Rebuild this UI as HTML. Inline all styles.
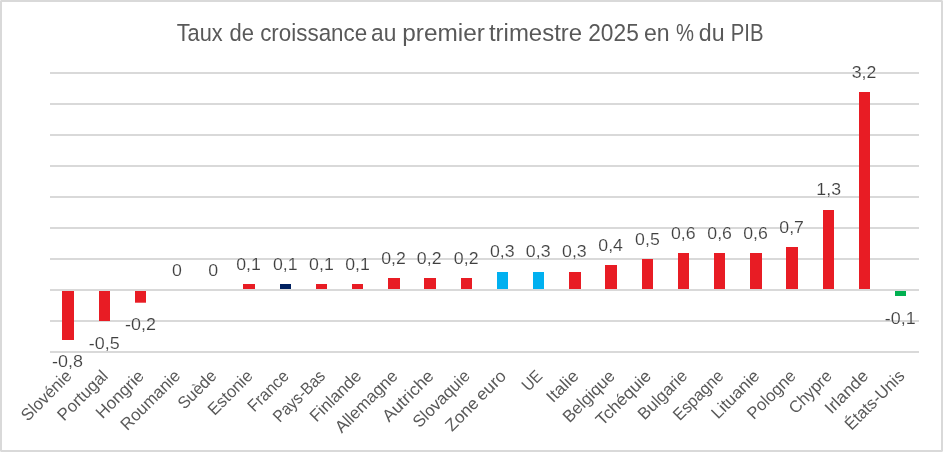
<!DOCTYPE html>
<html lang="fr">
<head>
<meta charset="utf-8">
<title>Taux de croissance au premier trimestre 2025 en % du PIB</title>
<style>
html,body{margin:0;padding:0;background:#fff;}
body{width:943px;height:452px;overflow:hidden;}
svg{display:block;}
text{font-family:"Liberation Sans",Arial,Helvetica,sans-serif;}
#labels text{stroke:#fff;stroke-width:0.14px;}
.t{fill:#595959;}
.a{fill:#595959;}
.d{fill:#404040;}
</style>
</head>
<body>
<svg width="943" height="452" viewBox="0 0 943 452">
<rect x="0" y="0" width="943" height="452" fill="#fff"/>
<rect x="1" y="1" width="941" height="450" fill="none" stroke="#D9D9D9" stroke-width="2"/>
<g fill="#E9E9E9"><rect x="0" y="0" width="1" height="1"/><rect x="942" y="0" width="1" height="1"/><rect x="0" y="451" width="1" height="1"/><rect x="942" y="451" width="1" height="1"/></g>
<g id="grid" stroke="#D9D9D9" stroke-width="1.9" fill="none">
<line x1="50.0" y1="73" x2="919.0" y2="73"/>
<line x1="50.0" y1="104" x2="919.0" y2="104"/>
<line x1="50.0" y1="135" x2="919.0" y2="135"/>
<line x1="50.0" y1="166" x2="919.0" y2="166"/>
<line x1="50.0" y1="197" x2="919.0" y2="197"/>
<line x1="50.0" y1="228" x2="919.0" y2="228"/>
<line x1="50.0" y1="259" x2="919.0" y2="259"/>
<line x1="50.0" y1="290" x2="919.0" y2="290"/>
<line x1="50.0" y1="321" x2="919.0" y2="321"/>
<line x1="50.0" y1="352" x2="919.0" y2="352"/>
</g>
<g id="bars">
<rect x="62" y="290.0" width="12" height="50" fill="#E81C24"/>
<rect x="99" y="290.0" width="11" height="31" fill="#E81C24"/>
<rect x="135" y="290.0" width="11" height="12.7" fill="#E81C24"/>
<rect x="243" y="284" width="12" height="6" fill="#E81C24"/>
<rect x="280" y="284" width="11" height="6" fill="#002060"/>
<rect x="316" y="284" width="11" height="6" fill="#E81C24"/>
<rect x="352" y="284" width="11" height="6" fill="#E81C24"/>
<rect x="388" y="278" width="12" height="12" fill="#E81C24"/>
<rect x="424" y="278" width="12" height="12" fill="#E81C24"/>
<rect x="461" y="278" width="11" height="12" fill="#E81C24"/>
<rect x="497" y="272" width="11" height="18" fill="#00B0F0"/>
<rect x="533" y="272" width="11" height="18" fill="#00B0F0"/>
<rect x="569" y="272" width="12" height="18" fill="#E81C24"/>
<rect x="605" y="265" width="12" height="25" fill="#E81C24"/>
<rect x="642" y="259" width="11" height="31" fill="#E81C24"/>
<rect x="678" y="253" width="11" height="37" fill="#E81C24"/>
<rect x="714" y="253" width="11" height="37" fill="#E81C24"/>
<rect x="750" y="253" width="12" height="37" fill="#E81C24"/>
<rect x="786" y="247" width="12" height="43" fill="#E81C24"/>
<rect x="823" y="210" width="11" height="80" fill="#E81C24"/>
<rect x="859" y="92" width="11" height="198" fill="#E81C24"/>
<rect x="895" y="290.0" width="11" height="6" fill="#00B050"/>
</g>
<line x1="50.0" y1="290.0" x2="919.0" y2="290.0" stroke="#D9D9D9" stroke-width="1.9"/>
<text class="t" y="41.2" font-size="23.15"><tspan x="176.69" textLength="46.00" lengthAdjust="spacingAndGlyphs">Taux</tspan> <tspan x="229.58" textLength="24.45" lengthAdjust="spacingAndGlyphs">de</tspan> <tspan x="260.15" textLength="107.07" lengthAdjust="spacingAndGlyphs">croissance</tspan> <tspan x="371.02" textLength="25.28" lengthAdjust="spacingAndGlyphs">au</tspan> <tspan x="402.23" textLength="82.64" lengthAdjust="spacingAndGlyphs">premier</tspan> <tspan x="488.97" textLength="93.14" lengthAdjust="spacingAndGlyphs">trimestre</tspan> <tspan x="588.19" textLength="50.60" lengthAdjust="spacingAndGlyphs">2025</tspan> <tspan x="643.92" textLength="25.65" lengthAdjust="spacingAndGlyphs">en</tspan> <tspan x="676.02" textLength="17.99" lengthAdjust="spacingAndGlyphs">%</tspan> <tspan x="698.77" textLength="25.77" lengthAdjust="spacingAndGlyphs">du</tspan> <tspan x="730.67" textLength="32.80" lengthAdjust="spacingAndGlyphs">PIB</tspan></text>
<g id="labels" font-size="17.27">
<text class="d" x="52.05" y="367.40" textLength="30.91" lengthAdjust="spacingAndGlyphs">-0,8</text>
<text class="d" x="88.86" y="348.80" textLength="30.91" lengthAdjust="spacingAndGlyphs">-0,5</text>
<text class="d" x="124.97" y="330.20" textLength="30.91" lengthAdjust="spacingAndGlyphs">-0,2</text>
<text class="d" x="172.09" y="275.50" textLength="9.89" lengthAdjust="spacingAndGlyphs">0</text>
<text class="d" x="208.29" y="275.50" textLength="9.89" lengthAdjust="spacingAndGlyphs">0</text>
<text class="d" x="236.23" y="269.70" textLength="24.64" lengthAdjust="spacingAndGlyphs">0,1</text>
<text class="d" x="273.03" y="269.70" textLength="24.64" lengthAdjust="spacingAndGlyphs">0,1</text>
<text class="d" x="309.14" y="269.70" textLength="24.64" lengthAdjust="spacingAndGlyphs">0,1</text>
<text class="d" x="345.15" y="269.70" textLength="24.64" lengthAdjust="spacingAndGlyphs">0,1</text>
<text class="d" x="381.26" y="263.90" textLength="24.64" lengthAdjust="spacingAndGlyphs">0,2</text>
<text class="d" x="416.87" y="263.90" textLength="24.64" lengthAdjust="spacingAndGlyphs">0,2</text>
<text class="d" x="453.88" y="263.90" textLength="24.64" lengthAdjust="spacingAndGlyphs">0,2</text>
<text class="d" x="490.03" y="257.40" textLength="24.64" lengthAdjust="spacingAndGlyphs">0,3</text>
<text class="d" x="525.89" y="257.40" textLength="24.64" lengthAdjust="spacingAndGlyphs">0,3</text>
<text class="d" x="562.10" y="257.40" textLength="24.64" lengthAdjust="spacingAndGlyphs">0,3</text>
<text class="d" x="598.31" y="251.00" textLength="24.64" lengthAdjust="spacingAndGlyphs">0,4</text>
<text class="d" x="635.12" y="244.80" textLength="24.64" lengthAdjust="spacingAndGlyphs">0,5</text>
<text class="d" x="671.03" y="238.60" textLength="24.64" lengthAdjust="spacingAndGlyphs">0,6</text>
<text class="d" x="707.33" y="238.60" textLength="24.64" lengthAdjust="spacingAndGlyphs">0,6</text>
<text class="d" x="743.24" y="238.60" textLength="24.64" lengthAdjust="spacingAndGlyphs">0,6</text>
<text class="d" x="779.35" y="233.25" textLength="24.64" lengthAdjust="spacingAndGlyphs">0,7</text>
<text class="d" x="816.36" y="195.20" textLength="24.64" lengthAdjust="spacingAndGlyphs">1,3</text>
<text class="d" x="851.77" y="78.25" textLength="24.64" lengthAdjust="spacingAndGlyphs">3,2</text>
<text class="d" x="884.84" y="324.00" textLength="30.91" lengthAdjust="spacingAndGlyphs">-0,1</text>
</g>
<g id="axis" font-size="16.89">
<text class="a" transform="translate(72.70,377.00) rotate(-45)" y="0"><tspan x="-63.54" textLength="63.54" lengthAdjust="spacingAndGlyphs">Slovénie</tspan></text>
<text class="a" transform="translate(108.91,377.00) rotate(-45)" y="0"><tspan x="-63.35" textLength="63.35" lengthAdjust="spacingAndGlyphs">Portugal</tspan></text>
<text class="a" transform="translate(145.12,377.00) rotate(-45)" y="0"><tspan x="-60.15" textLength="60.15" lengthAdjust="spacingAndGlyphs">Hongrie</tspan></text>
<text class="a" transform="translate(181.33,377.00) rotate(-45)" y="0"><tspan x="-76.64" textLength="76.64" lengthAdjust="spacingAndGlyphs">Roumanie</tspan></text>
<text class="a" transform="translate(217.54,377.00) rotate(-45)" y="0"><tspan x="-46.77" textLength="46.77" lengthAdjust="spacingAndGlyphs">Suède</tspan></text>
<text class="a" transform="translate(253.75,377.00) rotate(-45)" y="0"><tspan x="-55.50" textLength="55.50" lengthAdjust="spacingAndGlyphs">Estonie</tspan></text>
<text class="a" transform="translate(289.95,377.00) rotate(-45)" y="0"><tspan x="-50.63" textLength="50.63" lengthAdjust="spacingAndGlyphs">France</tspan></text>
<text class="a" transform="translate(326.16,377.00) rotate(-45)" y="0"><tspan x="-65.53" textLength="65.53" lengthAdjust="spacingAndGlyphs">Pays-Bas</tspan></text>
<text class="a" transform="translate(362.37,377.00) rotate(-45)" y="0"><tspan x="-64.80" textLength="64.80" lengthAdjust="spacingAndGlyphs">Finlande</tspan></text>
<text class="a" transform="translate(398.58,377.00) rotate(-45)" y="0"><tspan x="-80.39" textLength="80.39" lengthAdjust="spacingAndGlyphs">Allemagne</tspan></text>
<text class="a" transform="translate(434.79,377.00) rotate(-45)" y="0"><tspan x="-64.64" textLength="64.64" lengthAdjust="spacingAndGlyphs">Autriche</tspan></text>
<text class="a" transform="translate(471.00,377.00) rotate(-45)" y="0"><tspan x="-72.91" textLength="72.91" lengthAdjust="spacingAndGlyphs">Slovaquie</tspan></text>
<text class="a" transform="translate(507.20,377.00) rotate(-45)" y="0"><tspan x="-78.18" textLength="39.42" lengthAdjust="spacingAndGlyphs">Zone</tspan> <tspan x="-35.15" textLength="35.15" lengthAdjust="spacingAndGlyphs">euro</tspan></text>
<text class="a" transform="translate(543.41,377.00) rotate(-45)" y="0"><tspan x="-21.09" textLength="21.09" lengthAdjust="spacingAndGlyphs">UE</tspan></text>
<text class="a" transform="translate(579.62,377.00) rotate(-45)" y="0"><tspan x="-37.53" textLength="37.53" lengthAdjust="spacingAndGlyphs">Italie</tspan></text>
<text class="a" transform="translate(615.83,377.00) rotate(-45)" y="0"><tspan x="-65.70" textLength="65.70" lengthAdjust="spacingAndGlyphs">Belgique</tspan></text>
<text class="a" transform="translate(652.04,377.00) rotate(-45)" y="0"><tspan x="-70.06" textLength="70.06" lengthAdjust="spacingAndGlyphs">Tchéquie</tspan></text>
<text class="a" transform="translate(688.25,377.00) rotate(-45)" y="0"><tspan x="-61.71" textLength="61.71" lengthAdjust="spacingAndGlyphs">Bulgarie</tspan></text>
<text class="a" transform="translate(724.45,377.00) rotate(-45)" y="0"><tspan x="-63.05" textLength="63.05" lengthAdjust="spacingAndGlyphs">Espagne</tspan></text>
<text class="a" transform="translate(760.66,377.00) rotate(-45)" y="0"><tspan x="-60.51" textLength="60.51" lengthAdjust="spacingAndGlyphs">Lituanie</tspan></text>
<text class="a" transform="translate(796.87,377.00) rotate(-45)" y="0"><tspan x="-61.12" textLength="61.12" lengthAdjust="spacingAndGlyphs">Pologne</tspan></text>
<text class="a" transform="translate(833.08,377.00) rotate(-45)" y="0"><tspan x="-53.22" textLength="53.22" lengthAdjust="spacingAndGlyphs">Chypre</tspan></text>
<text class="a" transform="translate(869.29,377.00) rotate(-45)" y="0"><tspan x="-53.34" textLength="53.34" lengthAdjust="spacingAndGlyphs">Irlande</tspan></text>
<text class="a" transform="translate(905.50,377.00) rotate(-45)" y="0"><tspan x="-76.33" textLength="76.33" lengthAdjust="spacingAndGlyphs">États-Unis</tspan></text>
</g>
</svg>
</body>
</html>
